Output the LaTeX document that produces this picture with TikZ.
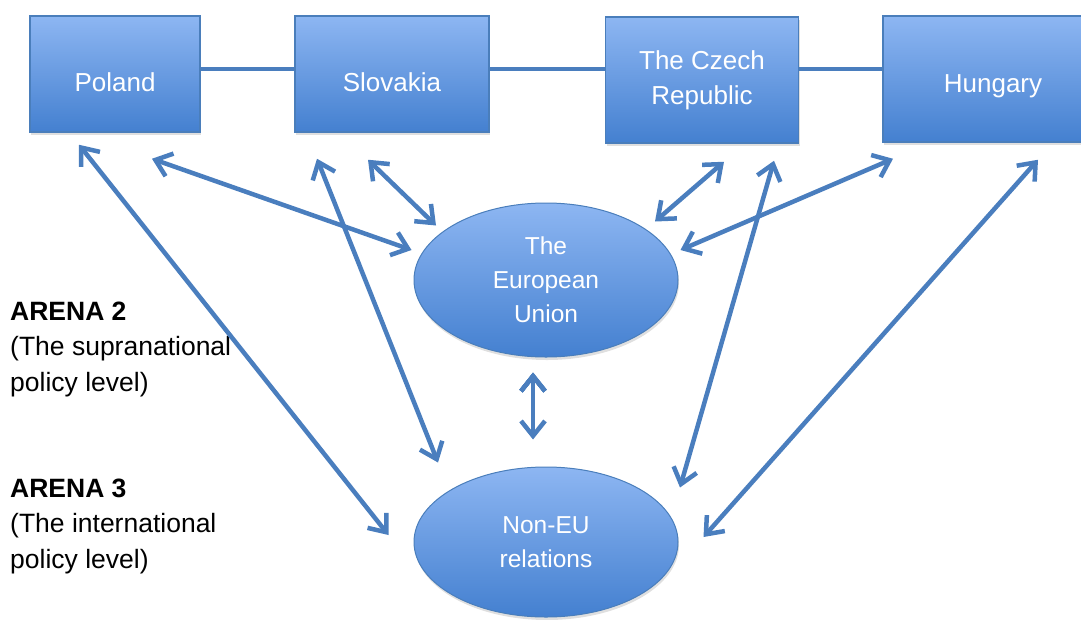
\documentclass[tikz,border=0pt]{standalone}
\usepackage{fontspec}
\setmainfont{Liberation Sans}
\usepackage{tikz}
\usetikzlibrary{arrows.meta,positioning,calc,shapes.geometric,shadows}
\usepackage{xcolor}
\definecolor{boxtop}{HTML}{8DB6F2}
\definecolor{boxbot}{HTML}{4480D0}
\definecolor{boxedge}{HTML}{4A7EBB}
\definecolor{linkblue}{HTML}{4A7EBE}

\begin{document}
\begin{tikzpicture}[x=1pt,y=-1pt,
  >={Straight Barb[length=15pt,width=24pt]},
  country/.style={rectangle,draw=boxedge,line width=1.5pt,inner sep=0pt,
    top color=boxtop,bottom color=boxbot,text=white,align=center,
    font=\fontsize{26}{35}\selectfont,
    drop shadow={opacity=0.25,shadow xshift=1pt,shadow yshift=-3pt}},
  oneline/.style={text height=#1,text depth=0pt},
  oneline/.default=34pt,
  bloc/.style={ellipse,draw=boxedge,line width=1pt,inner sep=0pt,
    top color=boxtop,bottom color=boxbot,text=white,align=center,
    font=\fontsize{24.5}{34}\selectfont,
    drop shadow={opacity=0.25,shadow xshift=1pt,shadow yshift=-3pt}},
  arena/.style={anchor=west,align=left,inner sep=0pt,font=\fontsize{26.5}{35.5}\selectfont},
  tie/.style={draw=linkblue,line width=4.5pt},
  rel/.style={tie,<->}]
   \useasboundingbox (0,0) rectangle (1081,619);
   \clip (0,0) rectangle (1081,619);

   % Arena 1: the member states
   \node[country,oneline,minimum width=170,minimum height=116] (poland) at (115,74) {Poland};
   \node[country,oneline,minimum width=194,minimum height=116] (slovakia) at (392,74) {Slovakia};
   \node[country,minimum width=193,minimum height=126] (czech) at (702,80) {The Czech\\Republic};
   \node[country,oneline=26pt,minimum width=220,minimum height=126] (hungary) at (993,79) {Hungary};

   % Arena 2 and 3
   \node[bloc,minimum width=264,minimum height=154] (eu) at (546,280) {The\\European\\Union};
   \node[bloc,minimum width=264,minimum height=150] (noneu) at (546,542) {Non-EU\\relations};

   \node[arena] (arena2) at (10,349) {\textbf{ARENA 2}\\(The supranational\\policy level)};
   \node[arena] (arena3) at (10,526) {\textbf{ARENA 3}\\(The international\\policy level)};

   \draw[tie] ([yshift=5pt]poland.east) -- ([yshift=5pt]slovakia.west);
   \draw[tie] ([yshift=5pt]slovakia.east) -- ([yshift=11pt]czech.west);
   \draw[tie] ([yshift=11pt]czech.east) -- ([yshift=10pt]hungary.west);

   \path[rel]
    ($(poland.south)+(-36,12)$) edge ($(noneu.west)+(-25,-7)$)
    ($(poland.south)+(37,26)$) edge ($(eu.west)+(-2,-30)$)
    ($(slovakia.south)+(-75,26)$) edge ($(noneu.north)+(-108,-4)$)
    ($(slovakia.south)+(-24,27)$) edge ($(eu.north)+(-110,23)$)
    ($(czech.south)+(22,18)$) edge ($(eu.north)+(109,19)$)
    ($(czech.south)+(72,17)$) edge ($(noneu.north)+(134,21)$)
    ($(hungary.south)+(-100,16)$) edge ($(eu.east)+(2,-30)$)
    ($(hungary.south)+(45,17)$) edge ($(noneu.east)+(25,-5)$)
    ($(eu.south)+(-13,15)$) edge ($(noneu.north)+(-13,-27)$);
\end{tikzpicture}
\end{document}
